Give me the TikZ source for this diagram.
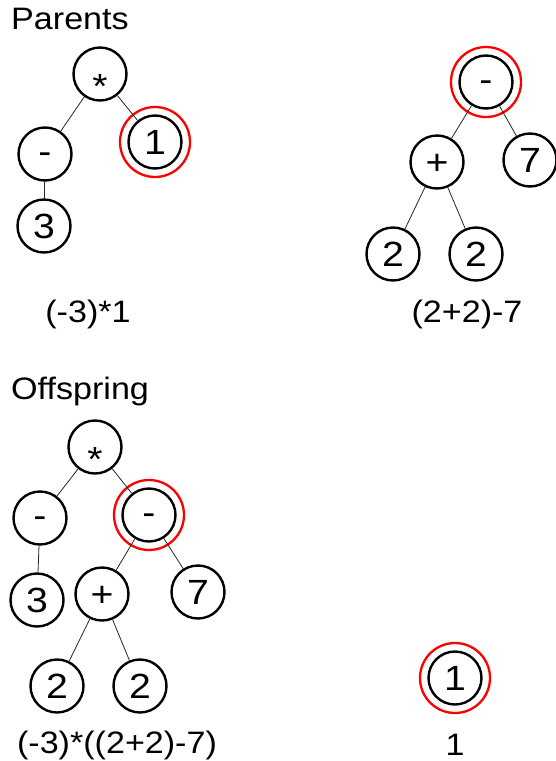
\documentclass[tikz,border=0pt]{standalone}
\usepackage{fontspec}
\setmainfont{Liberation Sans}
\newfontfamily\labfont[FakeStretch=1.1]{Liberation Sans}
\newfontfamily\nodefont[FakeStretch=1.12]{Liberation Sans}
\begin{document}
\begin{tikzpicture}[x=1pt,y=-1pt,
  tnode/.style={circle,draw=black,line width=2.4pt,minimum size=53pt,inner sep=0pt,
    font=\nodefont\fontsize{35}{40}\selectfont,text height=25pt,text depth=0pt},
  ring/.style={circle,draw=red,line width=2.3pt,minimum size=70pt,inner sep=0pt},
  edge/.style={draw=black!85,line width=0.8pt},
  title/.style={anchor=base west,inner sep=0pt,font=\labfont\fontsize{31}{36}\selectfont},
  caption/.style={anchor=base,inner sep=0pt,font=\labfont\fontsize{31}{36}\selectfont}]
\newcommand{\opstar}{\raisebox{-0.33em}{*}}
\newcommand{\opminus}{\raisebox{0.09em}{-}}
\useasboundingbox (0,0) rectangle (556,761);

% ---- first parent: (-3)*1
\node[title] (tparents) at (11,29) {Parents};
\node[tnode] (a1) at (100,74) {\opstar};
\node[tnode] (a2) at (45,154) {\opminus};
\node[tnode] (a3) at (155,142) {1};
\node[tnode] (a4) at (44,226) {3};
\node[ring] (ra3) at (a3) {};
\draw[edge] (a1) -- (a2);
\draw[edge] (a1) -- (a3);
\draw[edge] (a2) -- (a4);
\node[caption] (ca) at (88,322) {(-3)*1};

% ---- second parent: (2+2)-7
\node[tnode] (b1) at (486,82) {\opminus};
\node[tnode] (b2) at (437,162) {+};
\node[tnode] (b3) at (530,160) {7};
\node[tnode] (b4) at (393,254) {2};
\node[tnode] (b5) at (476,254) {2};
\node[ring] (rb1) at (b1) {};
\draw[edge] (b1) -- (b2);
\draw[edge] (b1) -- (b3);
\draw[edge] (b2) -- (b4);
\draw[edge] (b2) -- (b5);
\node[caption] (cb) at (467,322) {(2+2)-7};

% ---- offspring: (-3)*((2+2)-7)
\node[title] (toff) at (11,399) {Offspring};
\node[tnode] (c1) at (95,447) {\opstar};
\node[tnode] (c2) at (40,518) {\opminus};
\node[tnode] (c3) at (149,515) {\opminus};
\node[tnode] (c4) at (37,600) {3};
\node[tnode] (c5) at (102,594) {+};
\node[tnode] (c6) at (198,592) {7};
\node[tnode] (c7) at (57,686) {2};
\node[tnode] (c8) at (140,686) {2};
\node[ring] (rc3) at (c3) {};
\draw[edge] (c1) -- (c2);
\draw[edge] (c1) -- (c3);
\draw[edge] (c2) -- (c4);
\draw[edge] (c3) -- (c5);
\draw[edge] (c3) -- (c6);
\draw[edge] (c5) -- (c7);
\draw[edge] (c5) -- (c8);
\node[caption] (cc) at (117,753) {(-3)*((2+2)-7)};

% ---- offspring: 1
\node[tnode] (d1) at (455,678) {1};
\node[ring] (rd1) at (d1) {};
\node[caption] (cd) at (455,755) {1};
\end{tikzpicture}
\end{document}
